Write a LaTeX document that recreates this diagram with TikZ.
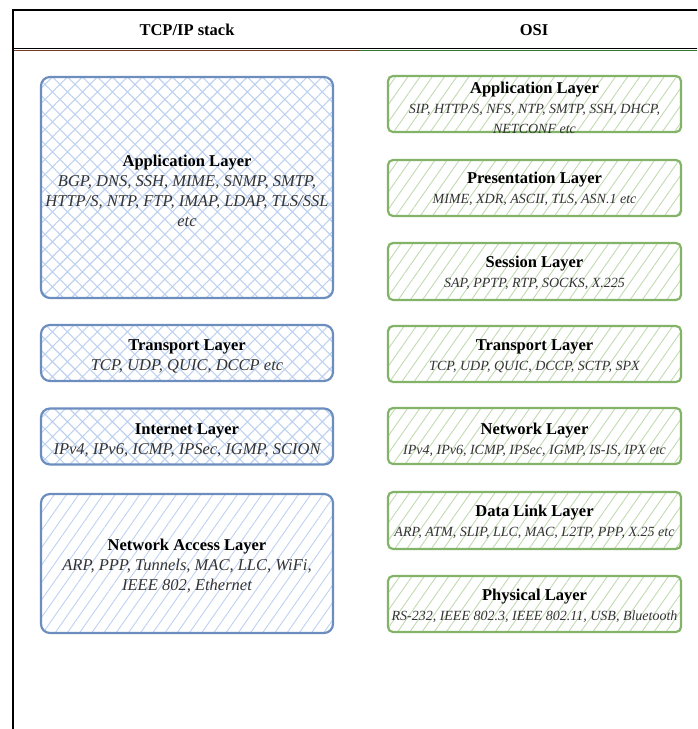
\documentclass[tikz,border=0pt]{standalone}
\usepackage{fontspec}
\setmainfont{Liberation Serif}
\usetikzlibrary{patterns.meta}
\definecolor{bstroke}{HTML}{6C8EBF}
\definecolor{bhatch}{HTML}{BED2F0}
\definecolor{gstroke}{HTML}{82B366}
\definecolor{ghatch}{HTML}{C2DAB2}
\definecolor{hdrred}{HTML}{7A3B28}
\definecolor{hdrgreen}{HTML}{2F7A2F}
\definecolor{subtxt}{HTML}{333333}
\tikzset{
  box/.style={draw, line width=2.2pt, inner sep=0pt, outer sep=0pt},
  bluebox/.style={box, draw=bstroke, rounded corners=9pt, minimum width=292pt},
  bluecross/.style={bluebox, pattern={Hatch[angle=45,distance=10.6pt,line width=1.1pt]}, pattern color=bhatch},
  bluelines/.style={bluebox, pattern={Lines[angle=55,distance=10pt,line width=0.9pt]}, pattern color=bhatch},
  greenbox/.style={box, draw=gstroke, rounded corners=5pt, minimum width=293pt, pattern={Lines[angle=55,distance=10pt,line width=0.9pt]}, pattern color=ghatch},
  lblL/.style={align=center, inner sep=0pt, font=\fontsize{16.5}{20}\selectfont\itshape, text=subtxt},
  lblR/.style={align=center, inner sep=0pt, font=\fontsize{14}{20}\selectfont\itshape, text=subtxt},
  hdr/.style={inner sep=0pt, font=\fontsize{16.5}{18}\selectfont\bfseries},
  frame/.style={line width=1.6pt, black},
}
\newcommand\ttl[1]{{\fontsize{16.5}{20}\selectfont\upshape\bfseries\color{black}#1}}
\begin{document}
\begin{tikzpicture}[x=1pt,y=1pt]
\useasboundingbox (0,0) rectangle (697,-729);
\clip (0,0) rectangle (697,-729);
% frame
\coordinate (ftl) at (13,-10);
\coordinate (ftr) at (700,-10);
\coordinate (fbl) at (13,-732);
\coordinate (hl) at (13,-48.5);
\coordinate (hr) at (700,-48.5);
\coordinate (hlc) at (14,-50);
\coordinate (hmc) at (360,-50);
\coordinate (hrc) at (700,-50);
\draw[line width=0.9pt, hdrred] (hlc) -- (hmc);
\draw[line width=0.9pt, hdrgreen] (hmc) -- (hrc);
\draw[frame] (ftr) -- (ftl) -- (fbl);
\draw[frame] (hl) -- (hr);
\node[hdr] (htcp) at (187,-30) {TCP/IP stack};
\node[hdr] (hosi) at (534,-30) {OSI};

% left column
\node[bluecross, minimum height=221pt] (lapp) at (187,-187.5) {};
\node[lblL] (lappt) at (187,-190.5) {\ttl{Application Layer}\\BGP, DNS, SSH, MIME, SNMP, SMTP,\\HTTP/S, NTP, FTP, IMAP, LDAP, TLS/SSL\\etc};
\node[bluecross, minimum height=56pt] (ltrans) at (187,-353) {};
\node[lblL] (ltranst) at (187,-356.5) {\ttl{Transport Layer}\\TCP, UDP, QUIC, DCCP etc};
\node[bluecross, minimum height=56pt] (linet) at (187,-436.5) {};
\node[lblL] (linett) at (187,-440.5) {\ttl{Internet Layer}\\IPv4, IPv6, ICMP, IPSec, IGMP, SCION};
\node[bluelines, minimum height=139pt] (lnet) at (187,-563.5) {};
\node[lblL] (lnett) at (187,-566) {\ttl{Network Access Layer}\\ARP, PPP, Tunnels, MAC, LLC, WiFi,\\IEEE 802, Ethernet};

% right column
\node[greenbox, minimum height=56pt] (rapp) at (534.5,-104) {};
\node[lblR] (rappt) at (534.5,-107.5) {\ttl{Application Layer}\\SIP, HTTP/S, NFS, NTP, SMTP, SSH, DHCP,\\NETCONF etc};
\node[greenbox, minimum height=56pt] (rpres) at (534.5,-188) {};
\node[lblR] (rprest) at (534.5,-188.5) {\ttl{Presentation Layer}\\MIME, XDR, ASCII, TLS, ASN.1 etc};
\node[greenbox, minimum height=57pt] (rsess) at (534.5,-271.5) {};
\node[lblR] (rsesst) at (534.5,-272.5) {\ttl{Session Layer}\\SAP, PPTP, RTP, SOCKS, X.225};
\node[greenbox, minimum height=56pt] (rtrans) at (534.5,-354) {};
\node[lblR] (rtranst) at (534.5,-356.5) {\ttl{Transport Layer}\\TCP, UDP, QUIC, DCCP, SCTP, SPX};
\node[greenbox, minimum height=56pt] (rnet) at (534.5,-436) {};
\node[lblR] (rnett) at (534.5,-439.5) {\ttl{Network Layer}\\IPv4, IPv6, ICMP, IPSec, IGMP, IS-IS, IPX etc};
\node[greenbox, minimum height=57pt] (rdl) at (534.5,-520.5) {};
\node[lblR] (rdlt) at (534.5,-522) {\ttl{Data Link Layer}\\ARP, ATM, SLIP, LLC, MAC, L2TP, PPP, X.25 etc};
\node[greenbox, minimum height=56pt] (rphy) at (534.5,-604) {};
\node[lblR] (rphyt) at (534.5,-606) {\ttl{Physical Layer}\\RS-232, IEEE 802.3, IEEE 802.11, USB, Bluetooth};
\end{tikzpicture}
\end{document}
